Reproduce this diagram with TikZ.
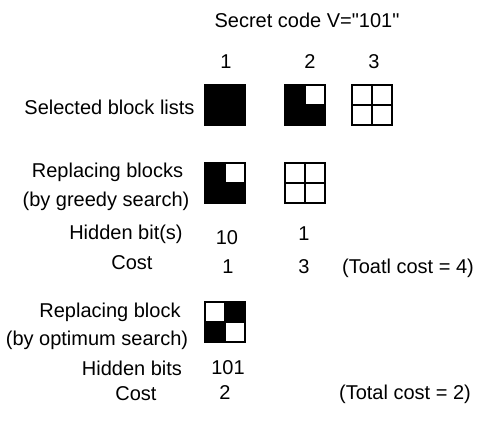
\documentclass[tikz,border=0pt]{standalone}
\usepackage{fontspec}
\setmainfont{Liberation Sans}[Ligatures=TeXOff]
\begin{document}
\begin{tikzpicture}[x=0.75pt,y=-0.75pt,
  lbl/.style={font=\fontsize{15}{18}\selectfont, inner sep=0pt, anchor=base},
  % a 2x2 block; the four arguments are the fills of the cells TL, TR, BL, BR
  pics/qblock/.style n args={4}{code={
    \fill[#1] (-20,-20) rectangle (0,0);
    \fill[#2] (0,-20) rectangle (20,0);
    \fill[#3] (-20,0) rectangle (0,20);
    \fill[#4] (0,0) rectangle (20,20);
    \draw[line width=1.5pt] (-20,-20) rectangle (20,20)
      (0,-20) -- (0,20) (-20,0) -- (20,0);
  }}]
\useasboundingbox (0,0) rectangle (480,421);

% heading and column numbers
\node[lbl] (title) at (307,27) {Secret code V="101"};
\node[lbl] (c1) at (226,69) {1};
\node[lbl] (c2) at (310,69) {2};
\node[lbl] (c3) at (374,69) {3};

% selected blocks
\node[lbl] (sel) at (109.5,114) {Selected block lists};
\pic at (225.5,105.5) {qblock={black}{black}{black}{black}};
\pic at (305,105.5) {qblock={black}{white}{black}{black}};
\pic at (372.5,105.5) {qblock={white}{white}{white}{white}};

% greedy search
\node[lbl] (rg1) at (107.5,178) {Replacing blocks};
\node[lbl] (rg2) at (106,207) {(by greedy search)};
\pic at (225.5,183.5) {qblock={black}{white}{black}{black}};
\pic at (305,183.5) {qblock={white}{white}{white}{white}};

\node[lbl] (hb) at (126,239) {Hidden bit(s)};
\node[lbl] (hb1) at (227,244) {10};
\node[lbl] (hb2) at (304,241) {1};

\node[lbl] (cg) at (132,270) {Cost};
\node[lbl] (cg1) at (228,274) {1};
\node[lbl] (cg2) at (304,274) {3};
\node[lbl] (cgt) at (408,273) {(Toatl cost = 4)};

% optimum search
\node[lbl] (ro1) at (110,318) {Replacing block};
\node[lbl] (ro2) at (97,345) {(by optimum search)};
\pic at (225.5,322.5) {qblock={white}{black}{black}{white}};

\node[lbl] (hbo) at (132,376) {Hidden bits};
\node[lbl] (hbo1) at (228,375) {101};

\node[lbl] (co) at (136,401) {Cost};
\node[lbl] (co1) at (225,400) {2};
\node[lbl] (cot) at (405,400) {(Total cost = 2)};
\end{tikzpicture}
\end{document}
